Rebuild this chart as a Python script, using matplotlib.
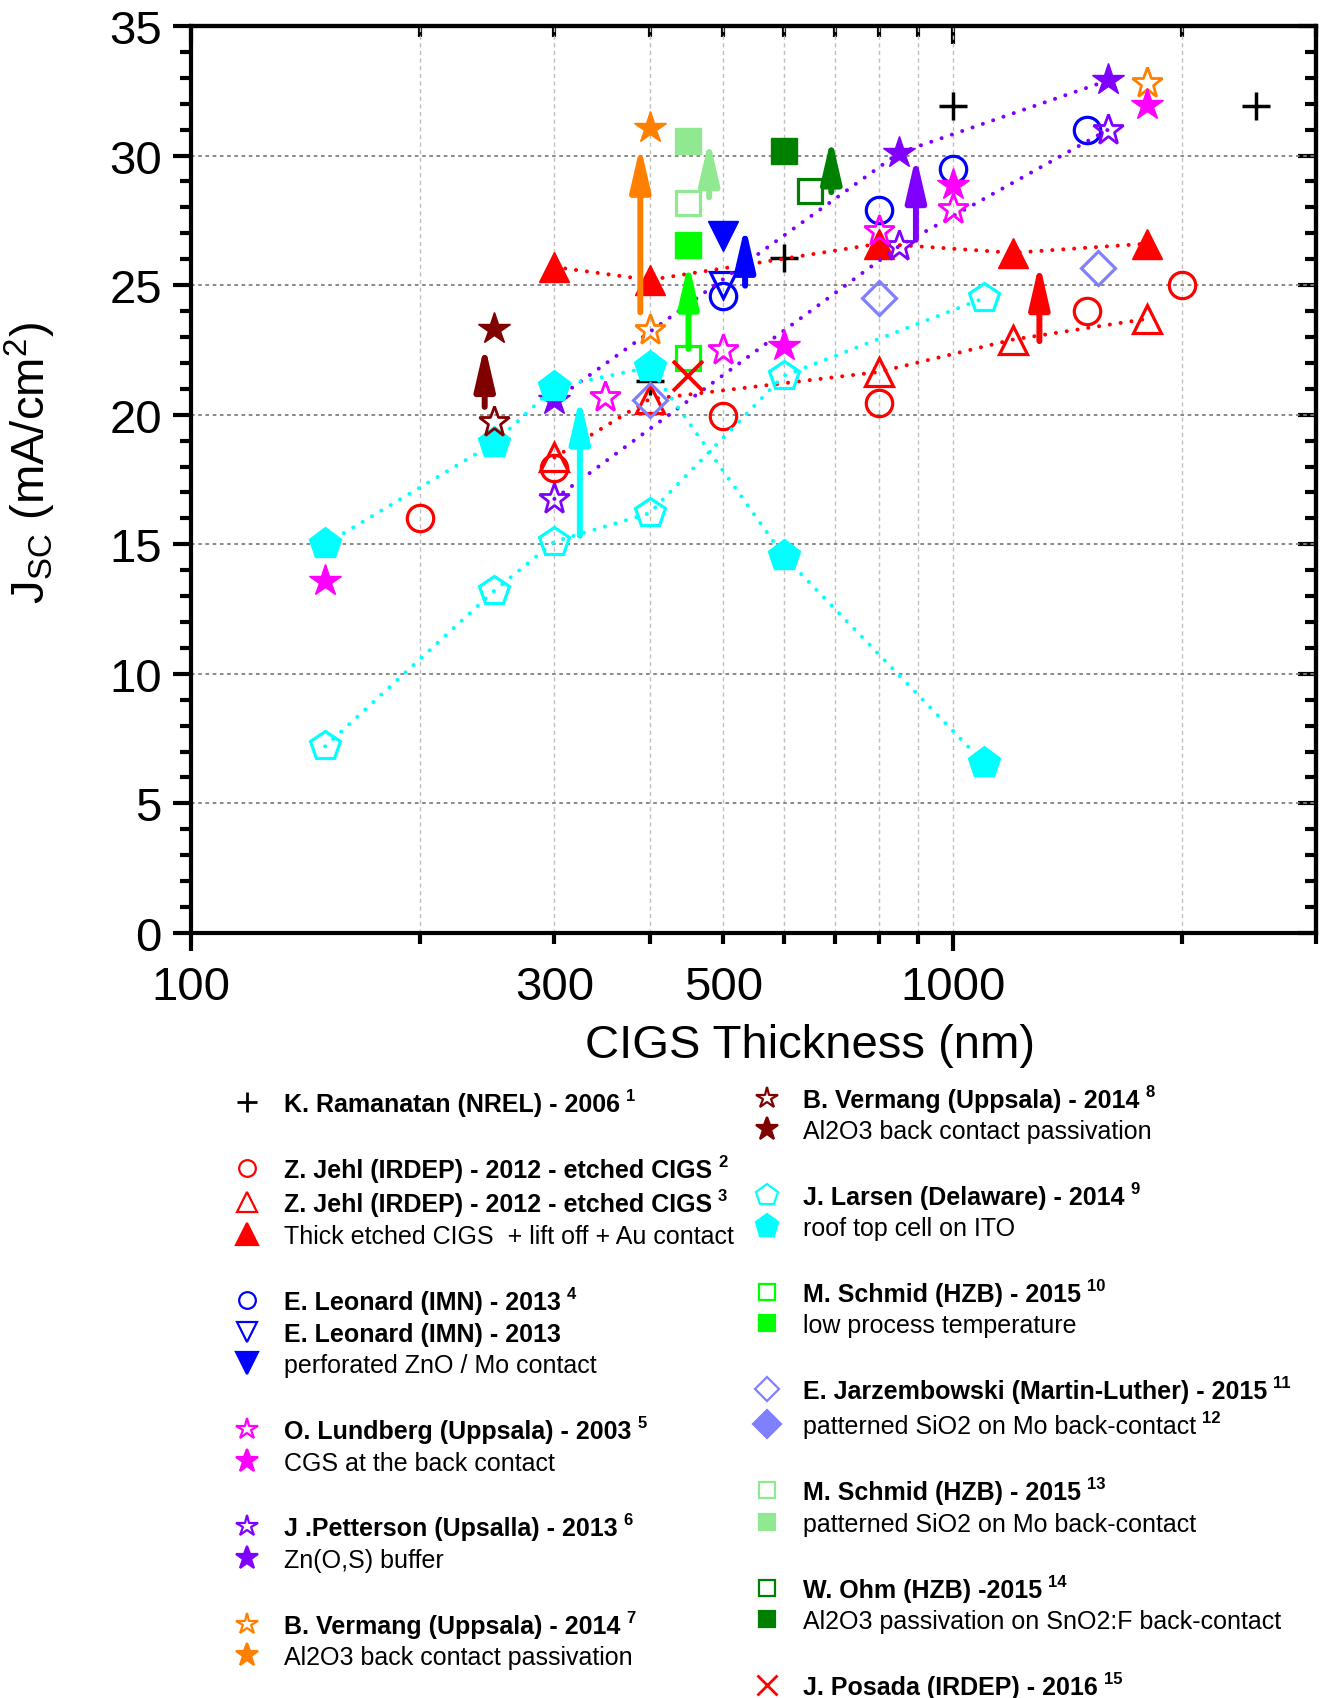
import matplotlib
matplotlib.use('Agg')
import matplotlib.pyplot as plt
from matplotlib.ticker import FixedLocator, NullFormatter, FuncFormatter, MultipleLocator
from matplotlib.patches import FancyArrowPatch

plt.rcParams['font.family'] = ['Liberation Sans', 'DejaVu Sans']
plt.rcParams['mathtext.fontset'] = 'custom'
plt.rcParams['mathtext.rm'] = 'Liberation Sans'
plt.rcParams['mathtext.it'] = 'Liberation Sans:italic'
plt.rcParams['mathtext.bf'] = 'Liberation Sans:bold'

# ---------------- data (CIGS thickness in nm, Jsc in mA/cm2) ----------------
ram_x = [400, 600, 1000, 2500]
ram_y = [21.3, 26.05, 31.9, 31.9]
jehl_c_x = [200, 300, 500, 800, 1500, 2000]
jehl_c_y = [16.0, 17.95, 19.95, 20.45, 24.0, 25.0]
jehl_t_x = [300, 400, 800, 1200, 1800]
jehl_t_y = [18.35, 20.6, 21.65, 22.9, 23.7]
jehl_tf_x = [300, 400, 800, 1200, 1800]
jehl_tf_y = [25.7, 25.2, 26.6, 26.25, 26.6]
leo_c_x = [500, 800, 1000, 1500]
leo_c_y = [24.6, 27.9, 29.5, 31.0]
leo_v_x = [500]
leo_v_y = [25.0]
leo_vf_x = [500]
leo_vf_y = [26.9]
lund_x = [350, 500, 800, 1000]
lund_y = [20.67, 22.5, 27.1, 27.95]
lund_f_x = [150, 600, 1000, 1800]
lund_f_y = [13.6, 22.67, 28.85, 31.95]
pett_x = [300, 850, 1600]
pett_y = [16.75, 26.5, 31.0]
pett_f_x = [300, 850, 1600]
pett_f_y = [20.55, 30.1, 32.9]
verm_x = [400, 1800]
verm_y = [23.25, 32.8]
verm_f_x = [400]
verm_f_y = [31.05]
verm8_x = [250]
verm8_y = [19.7]
verm8_f_x = [250]
verm8_f_y = [23.3]
lars_x = [150, 250, 300, 400, 600, 1100]
lars_y = [7.2, 13.2, 15.1, 16.2, 21.5, 24.5]
lars_f_x = [150, 250, 300, 400, 600, 1100]
lars_f_y = [15.0, 18.9, 21.06, 21.83, 14.55, 6.55]
sch10_x = [450]
sch10_y = [22.2]
sch10_f_x = [450]
sch10_f_y = [26.55]
jarz_x = [400, 800, 1550]
jarz_y = [20.57, 24.5, 25.65]
sch13_x = [450]
sch13_y = [28.16]
sch13_f_x = [450]
sch13_f_y = [30.58]
ohm_x = [650]
ohm_y = [28.65]
ohm_f_x = [600]
ohm_f_y = [30.17]
pos_x = [450]
pos_y = [21.5]

RED = '#FF0000'; BLUE = '#0000FF'; MAG = '#FF00FF'; PUR = '#8000FF'
ORA = '#FF8000'; MAR = '#800000'; CYA = '#00FFFF'; GRN = '#00FF00'
LAV = '#8080FF'; LGR = '#90E890'; DGR = '#008000'

arrow_x = [243, 324, 389, 450, 479, 534, 693, 895, 1300]
arrow_y0 = [20.3, 15.33, 23.95, 22.54, 28.39, 24.98, 28.59, 26.75, 22.84]
arrow_y1 = [22.7, 20.67, 30.39, 25.88, 30.64, 27.3, 30.71, 29.99, 25.86]
arrow_c = [MAR, CYA, ORA, GRN, LGR, BLUE, DGR, PUR, RED]

xticks_major = [100, 1000]
xticks_minor = [200, 300, 400, 500, 600, 700, 800, 900, 2000, 3000]
xlabels_minor = {300: '300', 500: '500'}

W, H = 1321, 1699
fig = plt.figure(figsize=(W / 100, H / 100), dpi=100)
ax_leg = fig.add_axes([0, 0, 1, 1])
ax_leg.set_xlim(0, W)
ax_leg.set_ylim(H, 0)
ax_leg.axis('off')

ax = fig.add_axes([0.1446, 0.4503, 0.8516, 0.5338])
ax.set_xscale('log')
ax.set_xlim(100, 3000)
ax.set_ylim(0, 35)

DOT = dict(dashes=(0.01, 2.7), dash_capstyle='round', lw=2.9)


def series(x, y, marker, color, filled, ms, mew=2.3, line=False, z=3):
    kw = dict(marker=marker, ms=ms, mew=mew, color=color, mec=color,
              mfc=color if filled else 'none', zorder=z, clip_on=False)
    if line:
        ax.plot(x, y, **DOT, **kw)
    else:
        ax.plot(x, y, linestyle='none', **kw)


series(ram_x, ram_y, '+', 'k', True, 20, 2.5)
series(jehl_tf_x, jehl_tf_y, '^', RED, True, 21, 1, line=True)
series(jehl_t_x, jehl_t_y, '^', RED, False, 20, 2.3, line=True)
series(jehl_c_x, jehl_c_y, 'o', RED, False, 19, 2.3)
series(leo_c_x, leo_c_y, 'o', BLUE, False, 19, 2.3)
series(leo_v_x, leo_v_y, 'v', BLUE, False, 19, 2.3)
series(leo_vf_x, leo_vf_y, 'v', BLUE, True, 22, 1)
series(pett_x, pett_y, '*', PUR, False, 23, 2.0, line=True)
series(pett_f_x, pett_f_y, '*', PUR, True, 24, 1, line=True)
series(verm_x, verm_y, '*', ORA, False, 23, 2.0)
series(verm_f_x, verm_f_y, '*', ORA, True, 24, 1)
series(lund_x, lund_y, '*', MAG, False, 23, 2.0)
series(lund_f_x, lund_f_y, '*', MAG, True, 24, 1)
series(lars_x, lars_y, 'p', CYA, False, 22, 2.3, line=True)
series(lars_f_x, lars_f_y, 'p', CYA, True, 24, 1, line=True)
series(verm8_x, verm8_y, '*', MAR, False, 23, 2.0)
series(verm8_f_x, verm8_f_y, '*', MAR, True, 24, 1)
series(sch10_x, sch10_y, 's', GRN, False, 17, 2.3)
series(sch10_f_x, sch10_f_y, 's', GRN, True, 19, 1)
series(jarz_x, jarz_y, 'D', LAV, False, 17, 2.3)
series(sch13_x, sch13_y, 's', LGR, False, 17, 2.3)
series(sch13_f_x, sch13_f_y, 's', LGR, True, 19, 1)
series(ohm_x, ohm_y, 's', DGR, False, 17, 2.3)
series(ohm_f_x, ohm_f_y, 's', DGR, True, 19, 1)
series(pos_x, pos_y, 'x', RED, True, 22, 2.8)

for xa, ya0, ya1, ca in zip(arrow_x, arrow_y0, arrow_y1, arrow_c):
    ar = FancyArrowPatch((xa, ya0), (xa, ya1),
                         arrowstyle='-|>,head_length=2.6,head_width=0.6',
                         mutation_scale=10, lw=4.3, color=ca,
                         shrinkA=0, shrinkB=0, zorder=5)
    ax.add_patch(ar)

# ---------------- axes styling ----------------
ax.xaxis.set_major_locator(FixedLocator(xticks_major))
ax.xaxis.set_major_formatter(FuncFormatter(lambda v, p: '%d' % round(v)))
ax.xaxis.set_minor_locator(FixedLocator(xticks_minor))
ax.xaxis.set_minor_formatter(FuncFormatter(
    lambda v, p: xlabels_minor.get(int(round(v)), '')))
ax.yaxis.set_major_locator(FixedLocator(list(range(0, 36, 5))))
ax.yaxis.set_minor_locator(MultipleLocator(1))

ax.tick_params(which='major', direction='out', length=13, width=3,
               labelsize=34, pad=8)
ax.tick_params(which='minor', direction='out', length=8, width=3,
               labelsize=34)
ax.tick_params(axis='x', which='major', pad=10)
ax.tick_params(axis='x', which='minor', pad=15)
for s in ax.spines.values():
    s.set_linewidth(3)

secx = ax.secondary_xaxis('top')
secx.xaxis.set_major_locator(FixedLocator(xticks_major))
secx.xaxis.set_minor_locator(FixedLocator(xticks_minor))
secx.xaxis.set_major_formatter(NullFormatter())
secx.xaxis.set_minor_formatter(NullFormatter())
secx.tick_params(which='major', direction='in', length=13, width=3)
secx.tick_params(which='minor', direction='in', length=8, width=3)
secx.spines['top'].set_linewidth(3)

secy = ax.secondary_yaxis('right')
secy.yaxis.set_major_locator(FixedLocator(list(range(0, 36, 5))))
secy.yaxis.set_minor_locator(MultipleLocator(1))
secy.yaxis.set_major_formatter(NullFormatter())
secy.yaxis.set_minor_formatter(NullFormatter())
secy.tick_params(which='major', direction='in', length=13, width=3)
secy.tick_params(which='minor', direction='in', length=8, width=3)
secy.spines['right'].set_linewidth(3)

ax.set_axisbelow(True)
ax.grid(axis='y', which='major', color='#808080', linestyle=(0, (2, 2)), lw=1.3)
ax.grid(axis='x', which='both', color='#c0c0c0', linestyle=(0, (3, 2.5)), lw=1.0)

fig.text(30 / W, 1 - 463 / H, r'J$_{\rm SC}$ (mA/cm$^{2}$)', rotation=90,
         fontsize=34, ha='center', va='center')
fig.text(810 / W, 1 - 1046 / H, 'CIGS Thickness (nm)', fontsize=34,
         ha='center', va='center')

# ---------------- legend (drawn manually) ----------------
left_entries = [
    ('+', 'k', True, 14, 'K. Ramanatan (NREL) - 2006', True, '1'),
    ('o', RED, False, 12, 'Z. Jehl (IRDEP) - 2012 - etched CIGS', True, '2'),
    ('^', RED, False, 15, 'Z. Jehl (IRDEP) - 2012 - etched CIGS', True, '3'),
    ('^', RED, True, 16, 'Thick etched CIGS  + lift off + Au contact', False, None),
    ('o', BLUE, False, 12, 'E. Leonard (IMN) - 2013', True, '4'),
    ('v', BLUE, False, 15, 'E. Leonard (IMN) - 2013', True, None),
    ('v', BLUE, True, 16, 'perforated ZnO / Mo contact', False, None),
    ('*', MAG, False, 16, 'O. Lundberg (Uppsala) - 2003', True, '5'),
    ('*', MAG, True, 17, 'CGS at the back contact', False, None),
    ('*', PUR, False, 16, 'J .Petterson (Upsalla) - 2013', True, '6'),
    ('*', PUR, True, 17, 'Zn(O,S) buffer', False, None),
    ('*', ORA, False, 16, 'B. Vermang (Uppsala) - 2014', True, '7'),
    ('*', ORA, True, 17, 'Al2O3 back contact passivation', False, None),
]
left_y = [1103, 1169, 1203, 1235, 1301, 1333, 1364, 1430, 1462, 1527, 1559, 1625, 1656]
right_entries = [
    ('*', MAR, False, 16, 'B. Vermang (Uppsala) - 2014', True, '8'),
    ('*', MAR, True, 17, 'Al2O3 back contact passivation', False, None),
    ('p', CYA, False, 16, 'J. Larsen (Delaware) - 2014', True, '9'),
    ('p', CYA, True, 17, 'roof top cell on ITO', False, None),
    ('s', GRN, False, 11, 'M. Schmid (HZB) - 2015', True, '10'),
    ('s', GRN, True, 12, 'low process temperature', False, None),
    ('D', LAV, False, 12, 'E. Jarzembowski (Martin-Luther) - 2015', True, '11'),
    ('D', LAV, True, 14, 'patterned SiO2 on Mo back-contact', False, '12'),
    ('s', LGR, False, 11, 'M. Schmid (HZB) - 2015', True, '13'),
    ('s', LGR, True, 12, 'patterned SiO2 on Mo back-contact', False, None),
    ('s', DGR, False, 11, 'W. Ohm (HZB) -2015', True, '14'),
    ('s', DGR, True, 12, 'Al2O3 passivation on SnO2:F back-contact', False, None),
    ('x', RED, True, 15, 'J. Posada (IRDEP) - 2016', True, '15'),
]
right_y = [1099, 1130, 1196, 1227, 1293, 1324, 1390, 1425, 1491, 1523, 1589, 1620, 1686]

renderer = fig.canvas.get_renderer()
inv = ax_leg.transData.inverted()


def draw_column(entries, ys, mx, tx):
    for (mk, col, filled, ms, label, bold, sup), yy in zip(entries, ys):
        ax_leg.plot([mx], [yy], linestyle='none', marker=mk, ms=ms,
                    mew=1.6 if mk not in '+x' else 2.0, color=col, mec=col,
                    mfc=col if filled else 'none', clip_on=False)
        t = ax_leg.text(tx, yy + 9, label, fontsize=18,
                        weight='bold' if bold else 'normal', va='baseline',
                        ha='left', color='black')
        if sup:
            bb = t.get_window_extent(renderer=renderer)
            xd, _ = inv.transform((bb.x1, bb.y0))
            ax_leg.text(xd + 6, yy + 9 - 11, sup, fontsize=12, weight='bold',
                        va='baseline', ha='left', color='black')


draw_column(left_entries, left_y, 247, 284)
draw_column(right_entries, right_y, 767, 803)

fig.savefig('out.png', dpi=100, facecolor='white')
